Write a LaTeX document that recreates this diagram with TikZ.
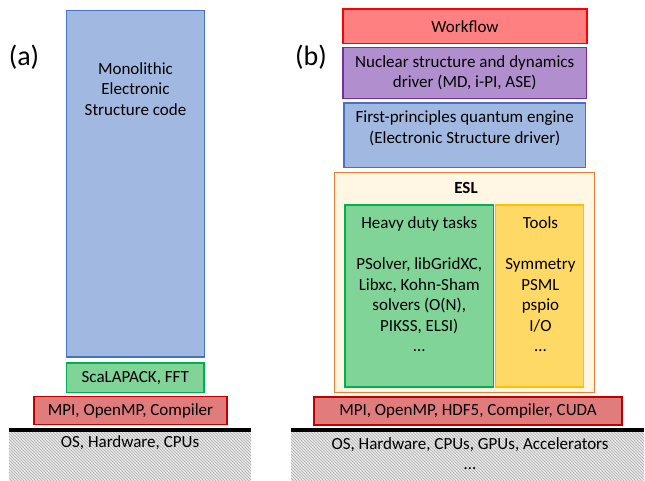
\documentclass[tikz,border=0pt]{standalone}
\usepackage{fontspec}
\setmainfont{Carlito}
\usetikzlibrary{patterns}
\definecolor{esblue}{RGB}{161,185,225}
\definecolor{esblueline}{RGB}{68,114,196}
\definecolor{libgreen}{RGB}{128,212,152}
\definecolor{libgreenline}{RGB}{0,176,80}
\definecolor{mpired}{RGB}{224,124,124}
\definecolor{mpiredline}{RGB}{192,0,0}
\definecolor{flowred}{RGB}{255,128,128}
\definecolor{flowredline}{RGB}{255,0,0}
\definecolor{nucpurple}{RGB}{177,143,207}
\definecolor{nucpurpleline}{RGB}{112,48,160}
\definecolor{eslcream}{RGB}{255,247,228}
\definecolor{eslorange}{RGB}{237,125,49}
\definecolor{toolyellow}{RGB}{255,217,102}
\definecolor{toolyellowline}{RGB}{255,192,0}
\definecolor{hwgray}{RGB}{232,232,232}
\definecolor{hwline}{RGB}{172,172,172}

\begin{document}
\begin{tikzpicture}[x=1pt,y=-1pt,
    layer/.style={draw,line width=1.8pt,inner sep=0pt,align=center,
      font=\fontsize{17}{20.5}\selectfont},
    txt/.style={inner sep=0pt,align=center,font=\fontsize{17}{20.5}\selectfont},
    ground/.style={inner sep=0pt,preaction={fill=hwgray},
      pattern=north west lines,pattern color=hwline}]
        \useasboundingbox (0,0) rectangle (645,481);

        % (a) monolithic code
        \node[txt,font=\fontsize{28}{30}\selectfont] (laba) at (24,57) {(a)};
        \node[layer,fill=esblue,draw=esblueline,minimum width=138,minimum height=346.5] (mono) at (135.5,183.75) {};
        \node[txt] (monotext) at (135.5,89) {Monolithic\\Electronic\\Structure code};
        \node[layer,fill=libgreen,draw=libgreenline,minimum width=137.5,minimum height=29.5] (scala) at (135.25,377.75) {ScaLAPACK, FFT};
        \node[layer,fill=mpired,draw=mpiredline,minimum width=193,minimum height=28] (mpia) at (130.5,410.5) {MPI, OpenMP, Compiler};
        \node[ground,minimum width=242,minimum height=51] (hwa) at (130,455.5) {};
        \draw[line width=3.5pt] (hwa.north west) -- (hwa.north east);
        \node[txt] (hwatext) at (130,443) {OS, Hardware, CPUs};

        % (b) ESL based code
        \node[txt,font=\fontsize{28}{30}\selectfont] (labb) at (311,57) {(b)};
        \node[layer,fill=flowred,draw=flowredline,minimum width=244,minimum height=34.5] (flow) at (465,26.25) {Workflow};
        \node[layer,fill=nucpurple,draw=nucpurpleline,minimum width=243.5,minimum height=51] (nuc) at (464.75,73) {Nuclear structure and dynamics\\driver (MD, i-PI, ASE)};
        \node[layer,fill=esblue,draw=esblueline,minimum width=241.5,minimum height=64.5] (engine) at (464.75,135.25) {};
        \node[txt] (enginetext) at (464.75,128.5) {First-principles quantum engine\\(Electronic Structure driver)};
        \node[layer,fill=eslcream,draw=eslorange,minimum width=260,minimum height=220] (esl) at (464.5,282.5) {};
        \node[txt,font=\fontsize{17}{20.5}\selectfont\bfseries] (esltext) at (466,188) {ESL};
        \node[layer,fill=libgreen,draw=libgreenline,minimum width=148.5,minimum height=182] (heavy) at (419.25,296) {};
        \node[txt] (heavytext) at (419.25,284.5) {Heavy duty tasks\\[20.5pt]PSolver, libGridXC,\\Libxc, Kohn-Sham\\solvers (O(N),\\PIKSS, ELSI)\\…};
        \node[layer,fill=toolyellow,draw=toolyellowline,minimum width=88,minimum height=182] (tools) at (539.5,296) {};
        \node[txt] (toolstext) at (540.5,284.5) {Tools\\[20.5pt]Symmetry\\PSML\\pspio\\I/O\\…};
        \node[layer,fill=mpired,draw=mpiredline,minimum width=308,minimum height=28] (mpib) at (468,411) {MPI, OpenMP, HDF5, Compiler, CUDA};
        \node[ground,minimum width=353,minimum height=51] (hwb) at (467.5,455.5) {};
        \draw[line width=3.5pt] (hwb.north west) -- (hwb.north east);
        \node[txt] (hwbtext) at (470,453.5) {OS, Hardware, CPUs, GPUs, Accelerators\\…};
    \end{tikzpicture}
\end{document}
